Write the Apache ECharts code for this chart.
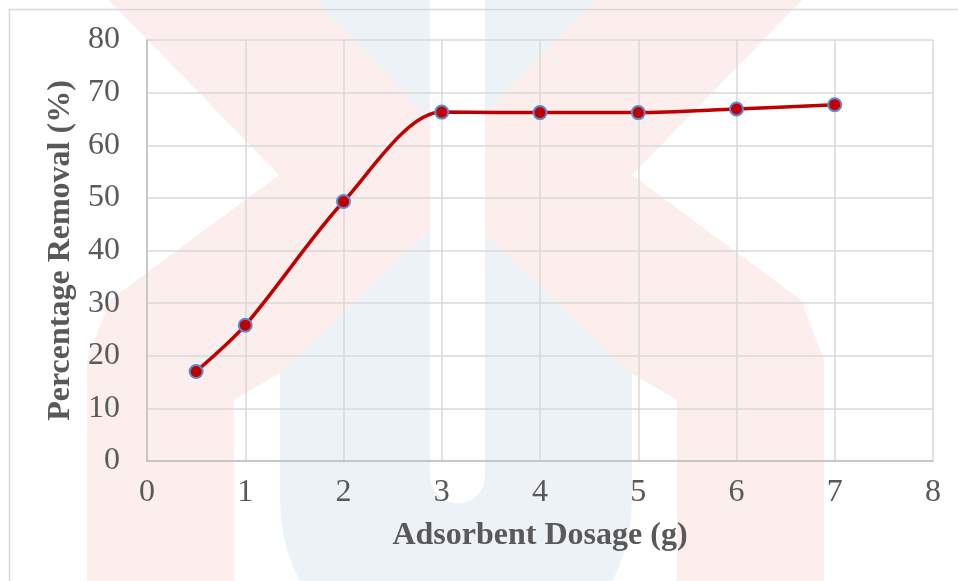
<!DOCTYPE html>
<html>
<head>
<meta charset="utf-8">
<script src="https://cdn.jsdelivr.net/npm/echarts@6/dist/echarts.min.js"></script>
<style>
html,body{margin:0;padding:0;background:#ffffff;}
#chart{width:958px;height:581px;}
</style>
</head>
<body>
<div id="chart"></div>
<script>
// Data
var dosage = [0.5, 1, 2, 3, 4, 5, 6, 7];
var removal = [17.0, 25.8, 49.3, 66.3, 66.2, 66.2, 66.9, 67.7];
var xTicks = [0, 1, 2, 3, 4, 5, 6, 7, 8];
var yTicks = [0, 10, 20, 30, 40, 50, 60, 70, 80];
var xTitle = 'Adsorbent Dosage (g)';
var yTitle = 'Percentage Removal (%)';

var points = dosage.map(function (d, i) { return [d, removal[i]]; });
var font = 'Liberation Serif';

var chart = echarts.init(document.getElementById('chart'), null, {renderer: 'canvas'});
chart.setOption({
  backgroundColor: '#ffffff',
  animation: false,
  graphic: [
    // faint background logo watermark
    {type: 'rect', z: -100, silent: true,
      shape: {x: 280, y: -5, width: 352, height: 505},
      style: {fill: '#edf2f7'}},
    {type: 'circle', z: -100, silent: true,
      shape: {cx: 456, cy: 500, r: 176},
      style: {fill: '#edf2f7'}},
    {type: 'polygon', z: -99, silent: true,
      shape: {points: [[104,-5],[310,-5],[455,145],[601,-5],[807,-5],[632,175],[801,300],[824,360],[824,600],[677,600],[677,400],[631,373],[455,206],[280,373],[234,400],[234,600],[87,600],[87,360],[110,300],[279,175]]},
      style: {fill: '#fdeeee'}},
    {type: 'rect', z: -98, silent: true,
      shape: {x: 430, y: -5, width: 55, height: 481},
      style: {fill: '#ffffff'}},
    {type: 'circle', z: -98, silent: true,
      shape: {cx: 457.5, cy: 476, r: 27.5},
      style: {fill: '#ffffff'}},
    {type: 'rect', z: -90, silent: true,
      shape: {x: 9.5, y: 9.5, width: 1200, height: 1200},
      style: {fill: 'none', stroke: '#d9d9d9', lineWidth: 1.5}}
  ],
  grid: {left: 147, top: 40, width: 786, height: 421, containLabel: false},
  xAxis: {
    type: 'value', min: xTicks[0], max: xTicks[xTicks.length - 1], interval: 1,
    name: xTitle, nameLocation: 'middle', nameGap: 59,
    nameTextStyle: {fontFamily: font, fontSize: 32, fontWeight: 'bold', color: '#595959'},
    axisLine: {show: true, lineStyle: {color: '#bfbfbf', width: 1.5}},
    axisTick: {show: false},
    axisLabel: {fontFamily: font, fontSize: 32, color: '#595959', margin: 16},
    splitLine: {show: true, lineStyle: {color: '#d9d9d9', width: 1.5}}
  },
  yAxis: {
    type: 'value', min: yTicks[0], max: yTicks[yTicks.length - 1], interval: 10,
    name: yTitle, nameLocation: 'middle', nameGap: 68, nameRotate: 90,
    nameTextStyle: {fontFamily: font, fontSize: 32, fontWeight: 'bold', color: '#595959'},
    axisLine: {show: true, lineStyle: {color: '#bfbfbf', width: 1.5}},
    axisTick: {show: false},
    axisLabel: {fontFamily: font, fontSize: 32, color: '#595959', margin: 27},
    splitLine: {show: true, lineStyle: {color: '#d9d9d9', width: 1.5}}
  },
  series: [{
    type: 'line',
    data: points,
    smooth: 0.3,
    symbol: 'circle',
    symbolSize: 13,
    lineStyle: {color: '#c00000', width: 3.5},
    itemStyle: {color: '#c00000', borderColor: '#5b8bd0', borderWidth: 2},
    z: 5
  }]
});
</script>
</body>
</html>
